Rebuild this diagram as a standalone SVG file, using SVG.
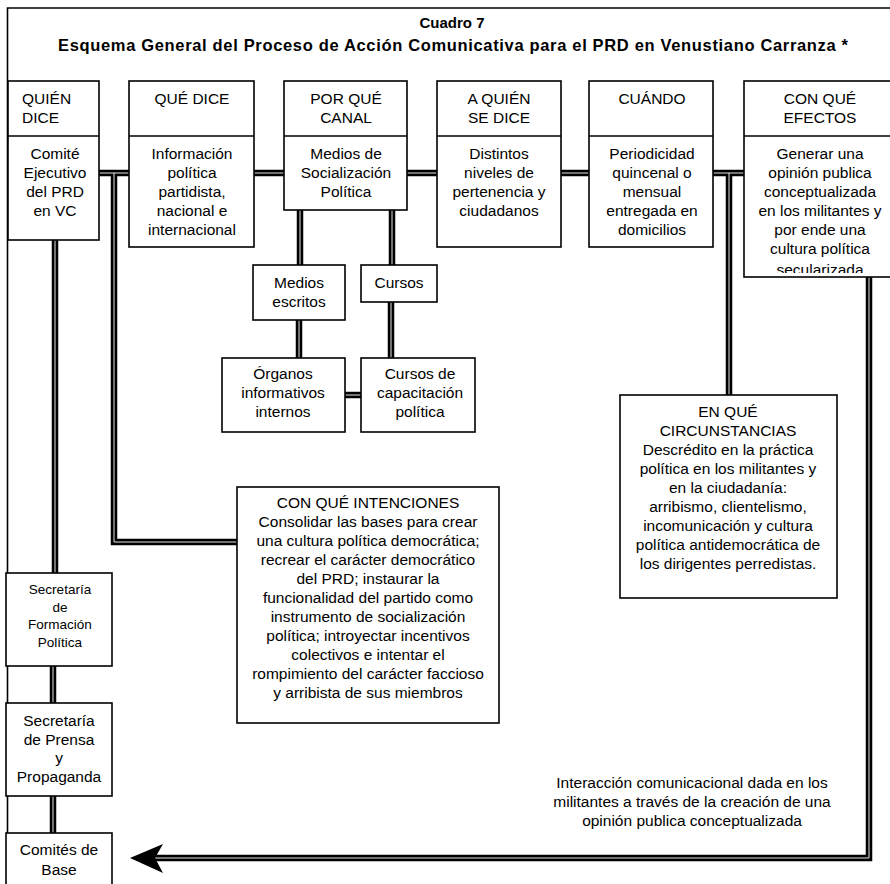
<svg xmlns="http://www.w3.org/2000/svg" width="890" height="884" viewBox="0 0 890 884">
<style>
  text { font-family: "Liberation Sans", Arial, sans-serif; fill: #000; }
  .t { font-size: 15.5px; }
  .c { text-anchor: middle; }
  .s { font-size: 13.5px; }
  .title { font-size: 15px; font-weight: bold; text-anchor: middle; }
  .title2 { font-size: 16.5px; font-weight: bold; text-anchor: middle; }
  .box { fill: #fff; stroke: #000; stroke-width: 1.6; }
  .div { stroke: #000; stroke-width: 1.6; fill: none; }
  .frame { stroke: #000; stroke-width: 1.6; fill: none; }
  .wire { fill: none; stroke: #000; stroke-width: 6.5; }
  .core { fill: none; stroke: #fff; stroke-width: 0.9; }
</style>
<defs>
  <clipPath id="clipEf"><rect x="740" y="136" width="160" height="137"/></clipPath>
  <path id="p1" d="M99,173 H129"/>
  <path id="p2" d="M254,173 H284"/>
  <path id="p3" d="M407,173 H437"/>
  <path id="p4" d="M561,173 H589"/>
  <path id="p5" d="M713,173 H744"/>
  <path id="p6" d="M729,173 V395"/>
  <path id="p7" d="M869,277 V858 H154"/>
  <path id="p8" d="M55,240 V573"/>
  <path id="p9" d="M53,666 V703"/>
  <path id="p10" d="M53,796 V833"/>
  <path id="p11" d="M114,173 V542 H237"/>
  <path id="p12" d="M300,210 V265"/>
  <path id="p13" d="M392,210 V265"/>
  <path id="p14" d="M299,320 V358"/>
  <path id="p15" d="M391,302 V358"/>
  <path id="p16" d="M345,395 H361"/>
</defs>

<g id="frame">
  <path class="frame" d="M7.5,884 V8 H892"/>
  <text class="title" x="452" y="28">Cuadro 7</text>
  <text class="title2" x="453" y="51" textLength="790" lengthAdjust="spacing">Esquema General del Proceso de Acción Comunicativa para  el PRD en Venustiano Carranza *</text>
</g>

<g id="connectors">
  <g class="wire">
    <use href="#p1"/><use href="#p2"/><use href="#p3"/><use href="#p4"/><use href="#p5"/>
    <use href="#p6"/><use href="#p7"/><use href="#p8"/><use href="#p9"/><use href="#p10"/>
    <use href="#p11"/><use href="#p12"/><use href="#p13"/><use href="#p14"/><use href="#p15"/><use href="#p16"/>
  </g>
  <g class="core">
    <use href="#p1"/><use href="#p2"/><use href="#p3"/><use href="#p4"/><use href="#p5"/>
    <use href="#p6"/><use href="#p7"/><use href="#p8"/><use href="#p9"/><use href="#p10"/>
    <use href="#p11"/><use href="#p12"/><use href="#p13"/><use href="#p14"/><use href="#p15"/><use href="#p16"/>
  </g>
  <polygon points="130,858 163,844 155,858 163,873" fill="#000"/>
</g>

<g id="quien">
  <rect class="box" x="8" y="81" width="91" height="159"/>
  <line class="div" x1="8" y1="136" x2="99" y2="136"/>
  <text class="t" x="22" y="104">QUIÉN</text>
  <text class="t" x="22" y="123">DICE</text>
  <text class="t c" x="55" y="159">Comité</text>
  <text class="t c" x="55" y="178">Ejecutivo</text>
  <text class="t c" x="55" y="197">del PRD</text>
  <text class="t c" x="55" y="216">en  VC</text>
</g>

<g id="que-dice">
  <rect class="box" x="129" y="81" width="125" height="166"/>
  <line class="div" x1="129" y1="136" x2="254" y2="136"/>
  <text class="t c" x="192" y="104">QUÉ DICE</text>
  <text class="t c" x="192" y="159">Información</text>
  <text class="t c" x="192" y="178">política</text>
  <text class="t c" x="192" y="197">partidista,</text>
  <text class="t c" x="192" y="216">nacional e</text>
  <text class="t c" x="192" y="235">internacional</text>
</g>

<g id="por-que-canal">
  <rect class="box" x="284" y="81" width="123" height="129"/>
  <line class="div" x1="284" y1="136" x2="407" y2="136"/>
  <text class="t c" x="346" y="104">POR QUÉ</text>
  <text class="t c" x="346" y="123">CANAL</text>
  <text class="t c" x="346" y="159">Medios de</text>
  <text class="t c" x="346" y="178">Socialización</text>
  <text class="t c" x="346" y="197">Política</text>
</g>

<g id="a-quien">
  <rect class="box" x="437" y="81" width="124" height="166"/>
  <line class="div" x1="437" y1="136" x2="561" y2="136"/>
  <text class="t c" x="499" y="104">A QUIÉN</text>
  <text class="t c" x="499" y="123">SE DICE</text>
  <text class="t c" x="499" y="159">Distintos</text>
  <text class="t c" x="499" y="178">niveles de</text>
  <text class="t c" x="499" y="197">pertenencia y</text>
  <text class="t c" x="499" y="216">ciudadanos</text>
</g>

<g id="cuando">
  <rect class="box" x="589" y="81" width="124" height="166"/>
  <line class="div" x1="589" y1="136" x2="713" y2="136"/>
  <text class="t c" x="652" y="104">CUÁNDO</text>
  <text class="t c" x="652" y="159">Periodicidad</text>
  <text class="t c" x="652" y="178">quincenal o</text>
  <text class="t c" x="652" y="197">mensual</text>
  <text class="t c" x="652" y="216">entregada en</text>
  <text class="t c" x="652" y="235">domicilios</text>
</g>

<g id="efectos">
  <rect class="box" x="744" y="81" width="150" height="196"/>
  <line class="div" x1="744" y1="136" x2="894" y2="136"/>
  <text class="t c" x="820" y="104">CON QUÉ</text>
  <text class="t c" x="820" y="123">EFECTOS</text>
  <g clip-path="url(#clipEf)">
    <text class="t c" x="820" y="159">Generar una</text>
    <text class="t c" x="820" y="178">opinión publica</text>
    <text class="t c" x="820" y="197">conceptualizada</text>
    <text class="t c" x="820" y="216">en los militantes y</text>
    <text class="t c" x="820" y="235">por ende una</text>
    <text class="t c" x="820" y="254">cultura política</text>
    <text class="t c" x="820" y="275">secularizada</text>
  </g>
</g>

<g id="medios-escritos">
  <rect class="box" x="253" y="265" width="92" height="55"/>
  <text class="t c" x="299" y="288">Medios</text>
  <text class="t c" x="299" y="307">escritos</text>
</g>

<g id="cursos">
  <rect class="box" x="361" y="265" width="76" height="37"/>
  <text class="t c" x="399" y="288">Cursos</text>
</g>

<g id="organos">
  <rect class="box" x="222" y="358" width="123" height="74"/>
  <text class="t c" x="283" y="379">Órganos</text>
  <text class="t c" x="283" y="398">informativos</text>
  <text class="t c" x="283" y="417">internos</text>
</g>

<g id="cursos-capacitacion">
  <rect class="box" x="361" y="358" width="114" height="74"/>
  <text class="t c" x="420" y="379">Cursos de</text>
  <text class="t c" x="420" y="398">capacitación</text>
  <text class="t c" x="420" y="417">política</text>
</g>

<g id="intenciones">
  <rect class="box" x="237" y="487" width="262" height="236"/>
  <text class="t c" x="368" y="508">CON QUÉ INTENCIONES</text>
  <text class="t c" x="368" y="527">Consolidar las bases para crear</text>
  <text class="t c" x="368" y="546">una cultura política democrática;</text>
  <text class="t c" x="368" y="565">recrear el carácter democrático</text>
  <text class="t c" x="368" y="584">del PRD; instaurar la</text>
  <text class="t c" x="368" y="603">funcionalidad del partido como</text>
  <text class="t c" x="368" y="622">instrumento de socialización</text>
  <text class="t c" x="368" y="641">política; introyectar incentivos</text>
  <text class="t c" x="368" y="660">colectivos e intentar el</text>
  <text class="t c" x="368" y="679">rompimiento del carácter faccioso</text>
  <text class="t c" x="368" y="698">y arribista de sus miembros</text>
</g>

<g id="circunstancias">
  <rect class="box" x="620" y="395" width="217" height="203"/>
  <text class="t c" x="728" y="417">EN QUÉ</text>
  <text class="t c" x="728" y="436">CIRCUNSTANCIAS</text>
  <text class="t c" x="728" y="455">Descrédito en la práctica</text>
  <text class="t c" x="728" y="474">política en los militantes y</text>
  <text class="t c" x="728" y="493">en la ciudadanía:</text>
  <text class="t c" x="728" y="512">arribismo, clientelismo,</text>
  <text class="t c" x="728" y="531">incomunicación y cultura</text>
  <text class="t c" x="728" y="550">política antidemocrática de</text>
  <text class="t c" x="728" y="569">los dirigentes perredistas.</text>
</g>

<g id="sec-formacion">
  <rect class="box" x="6" y="573" width="106" height="93"/>
  <text class="s c" x="60" y="594">Secretaría</text>
  <text class="s c" x="60" y="611.5">de</text>
  <text class="s c" x="60" y="629">Formación</text>
  <text class="s c" x="60" y="646.5">Política</text>
</g>

<g id="sec-prensa">
  <rect class="box" x="6" y="703" width="106" height="93"/>
  <text class="t c" x="59" y="726">Secretaría</text>
  <text class="t c" x="59" y="745">de Prensa</text>
  <text class="t c" x="59" y="763">y</text>
  <text class="t c" x="59" y="782">Propaganda</text>
</g>

<g id="comites-base">
  <rect class="box" x="6" y="833" width="106" height="60"/>
  <text class="t c" x="59" y="855">Comités de</text>
  <text class="t c" x="59" y="875">Base</text>
</g>

<g id="interaccion-label">
  <text class="t c" x="692" y="788">Interacción comunicacional dada en los</text>
  <text class="t c" x="692" y="807">militantes a través de la creación de una</text>
  <text class="t c" x="692" y="826">opinión publica conceptualizada</text>
</g>
</svg>
